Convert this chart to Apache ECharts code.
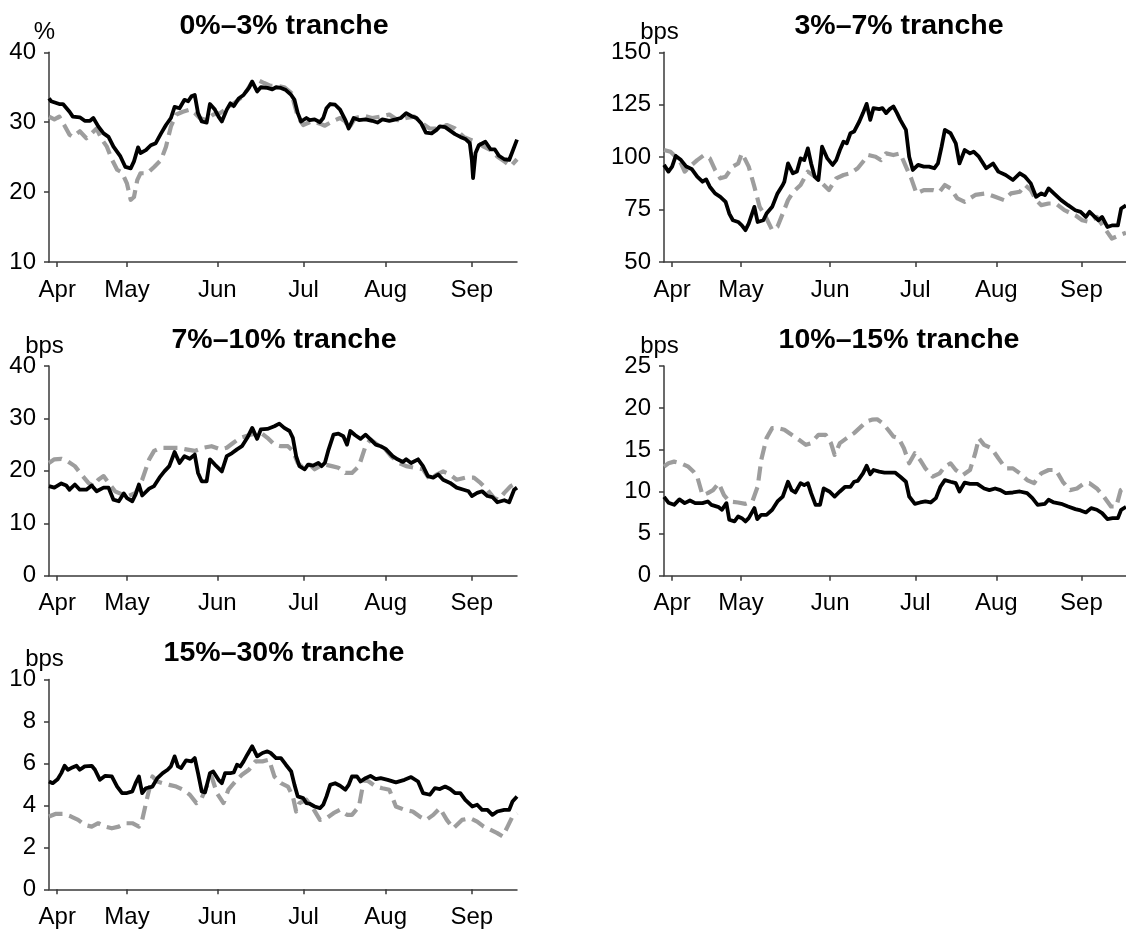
<!DOCTYPE html>
<html>
<head>
<meta charset="utf-8">
<style>
  html, body { margin: 0; padding: 0; background: #ffffff; }
  #chart { width: 1126px; height: 930px; }
</style>
<script src="https://cdn.jsdelivr.net/npm/echarts@6/dist/echarts.min.js"></script>
</head>
<body>
<div id="chart"></div>
<script>
// ---- Data (x = trading-day index from the start of the sample, y = spread) ----
const monthLabels = ['Apr', 'May', 'Jun', 'Jul', 'Aug', 'Sep'];
const monthStartDay = [2, 19, 41, 62, 82, 103];
const lastDay = 114;

const titles = ['0%\u20133% tranche', '3%\u20137% tranche', '7%\u201310% tranche', '10%\u201315% tranche', '15%\u201330% tranche'];
const units = ['%', 'bps', 'bps', 'bps', 'bps'];

// 0%-3% tranche (%)
const t0_3Solid = [[0,33.4],[0.5,33.0],[2.5,32.6],[3.4,32.6],[5,31.5],[5.8,30.8],[7.5,30.7],[8.7,30.2],[10,30.2],[10.8,30.6],[12,29.4],[13.3,28.4],[14.5,27.9],[15.7,26.5],[17.4,25.1],[18.6,23.6],[19.9,23.4],[20.7,24.4],[21.7,26.4],[22.3,25.6],[23.6,26.0],[24.8,26.7],[26,27.0],[27.3,28.4],[28.5,29.6],[29.7,30.6],[30.6,32.2],[31.8,32.0],[33,33.2],[33.9,33.0],[34.7,33.7],[35.5,33.9],[36.3,31.3],[37.2,30.1],[38.4,29.95],[39.2,32.6],[40.4,31.8],[41.3,30.8],[42.1,30.1],[43.3,31.8],[44.2,32.7],[45,32.3],[46.2,33.4],[47.4,33.9],[48.7,34.9],[49.5,35.8],[50.7,34.4],[51.6,35.0],[53.2,34.9],[54.4,34.7],[55.3,35.0],[56.5,34.9],[57.7,34.6],[59,33.9],[59.8,33.2],[60.6,31.3],[61.4,30.1],[62.7,30.6],[63.5,30.3],[64.7,30.4],[66,30.0],[66.8,30.6],[67.6,32.0],[68.5,32.6],[69.7,32.5],[70.9,31.8],[72.2,30.3],[73,29.1],[74.2,30.6],[75.5,30.3],[77.1,30.4],[78.7,30.2],[80,29.95],[81.2,30.4],[82.9,30.2],[84.5,30.4],[85.7,30.6],[87,31.3],[88.2,30.9],[89.5,30.6],[90.7,29.8],[91.8,28.5],[93.2,28.4],[94.4,28.9],[95.2,29.4],[96.5,29.3],[97.7,28.8],[98.9,28.3],[100.2,27.9],[101.4,27.6],[102.5,27.0],[103,24.6],[103.3,22.0],[103.9,25.6],[104.7,26.7],[106.3,27.2],[107.6,26.1],[108.6,26.1],[109.6,25.2],[110.9,24.7],[112.1,24.6],[112.9,25.8],[114,27.5]];
const t0_3Dashed = [[0,30.8],[1.3,30.4],[2.5,30.8],[3.8,29.5],[5,28.2],[5.8,27.9],[7.5,28.7],[9.1,27.7],[10.4,28.4],[11.6,29.1],[12.9,27.5],[14.1,26.5],[15.3,24.7],[16.6,23.2],[17.8,22.8],[19,21.2],[19.9,18.9],[20.7,19.3],[21.5,21.7],[22.3,22.7],[24,22.7],[25.6,23.6],[27.3,24.6],[28.5,26.5],[29.7,29.4],[31,31.1],[32.6,31.5],[34.3,31.8],[35.5,31.3],[36.7,30.6],[38.4,30.3],[40,31.1],[41.7,31.3],[43.3,32.0],[45,32.7],[46.6,33.4],[48.3,34.6],[49.5,35.8],[50.7,36.1],[52.4,35.6],[54,35.2],[55.7,35.2],[57.3,35.0],[59,34.2],[60.6,30.8],[61.9,29.6],[63.9,30.1],[66,29.8],[67.2,29.5],[69.3,30.2],[70.9,30.6],[72.2,30.1],[73,29.1],[74.6,30.6],[76.7,30.9],[78.7,30.6],[80.8,30.8],[82.9,31.1],[84.9,30.3],[87,30.6],[89,30.8],[90.7,29.95],[92.7,29.1],[95.2,29.1],[96.9,29.6],[98.9,29.1],[101,27.9],[102.6,27.5],[104.3,27.1],[105.9,26.5],[107.6,26.0],[109.2,25.1],[110.9,24.4],[112.5,23.7],[114,24.7]];

// 3%-7% tranche (bps)
const t3_7Solid = [[0,96.3],[1.1,93.1],[2,95.5],[2.9,100.6],[4.2,98.6],[5.5,95.5],[6.9,94.2],[8.2,90.7],[9.5,88.3],[10.4,89.4],[11.3,85.9],[12.6,82.7],[13.9,81.1],[15.2,78.7],[16.1,73.1],[17,69.9],[18.3,69.1],[19.2,67.5],[20.1,65.2],[20.9,68.3],[22.3,76.3],[23.1,69.1],[24.5,69.9],[25.3,73.1],[26.7,76.3],[28,82.7],[29.3,86.7],[29.7,88.3],[30.6,97.0],[31.8,92.3],[32.8,93.1],[33.7,99.4],[34.6,98.6],[35.5,104.2],[36.3,97.0],[37.2,90.7],[38.1,89.1],[39,105.0],[40.3,99.4],[41.6,96.3],[42.5,98.6],[43.4,103.4],[44.3,107.4],[45.1,106.6],[46,111.4],[46.9,112.2],[48.2,117.0],[49.1,121.0],[50,125.4],[50.9,117.8],[51.7,123.4],[53.1,122.9],[53.9,123.4],[54.8,121.0],[55.7,122.9],[56.6,124.2],[57.5,121.0],[58.3,117.8],[59.7,113.0],[60.5,100.2],[61.4,93.9],[62.7,96.3],[64.1,95.5],[65.4,95.5],[66.7,94.7],[67.6,97.0],[68.5,105.0],[69.3,113.0],[70.7,111.4],[72,106.6],[72.9,97.0],[74.2,103.4],[75.5,101.8],[76.4,102.6],[77.7,100.2],[79.5,94.7],[81.2,97.0],[82.5,93.1],[84.3,91.5],[86.1,89.1],[87.8,92.3],[89.1,90.7],[90.5,87.5],[91.8,81.1],[93.1,82.7],[94,81.9],[94.9,85.1],[96.2,82.7],[98,79.5],[99.7,77.1],[101.5,74.7],[102.8,73.9],[104.1,71.5],[105,73.9],[106.3,71.5],[107.2,69.9],[108.1,71.5],[109.4,66.7],[110.7,67.5],[112,67.5],[112.8,75.5],[114,77.0]];
const t3_7Dashed = [[0,103.4],[1.6,102.6],[2.9,100.2],[4.2,97.0],[5.1,93.1],[6.4,95.5],[8.2,98.6],[9.9,101.0],[11.3,99.4],[12.6,93.9],[13.9,89.9],[15.2,90.7],[17,95.5],[18.3,97.0],[19.2,101.8],[20.1,98.6],[20.9,95.5],[22.3,85.9],[23.6,76.3],[24.9,72.3],[26.7,65.2],[28,66.8],[29.3,73.1],[30.6,79.5],[31.9,83.5],[33.7,86.7],[35.5,93.1],[37.2,90.7],[39,87.5],[40.7,84.3],[42.5,89.9],[44.3,91.5],[46,92.3],[47.8,94.7],[49.1,97.8],[50.4,101.0],[52.2,100.2],[53.5,98.6],[54.8,101.8],[56.6,101.0],[58.3,101.8],[59.7,95.5],[61,89.9],[62.3,82.7],[64.1,84.3],[66.3,84.3],[68,83.5],[69.3,86.7],[70.7,85.1],[72.4,80.3],[74.2,78.7],[76.8,82.0],[79.5,82.7],[81.7,81.1],[83.9,79.5],[85.6,82.7],[87.8,83.5],[89.1,86.7],[90.5,84.3],[91.8,79.5],[93.1,77.1],[94.9,77.9],[96.7,77.9],[98.8,74.7],[101.5,72.3],[103.2,69.9],[105,69.1],[106.8,71.5],[108.5,66.7],[110.5,61.2],[112.7,63.0],[114,64.0]];

// 7%-10% tranche (bps)
const t7_10Solid = [[0,17.1],[1.3,16.8],[3,17.6],[4.2,17.2],[5,16.4],[6.3,17.4],[7.5,16.4],[9.1,16.4],[10.4,17.2],[11.6,16.1],[13.3,16.8],[14.5,16.8],[15.7,14.5],[17,14.2],[18.2,15.7],[19,14.8],[20.3,14.2],[21.1,15.5],[21.9,17.4],[22.7,15.3],[24.4,16.6],[25.6,17.1],[26.9,18.7],[28.1,19.9],[29.3,20.9],[30.6,23.6],[31.8,21.5],[33,22.8],[34.3,22.3],[35.5,23.1],[36.3,19.6],[37.2,18.0],[38.4,18.0],[39.2,22.2],[40.4,21.2],[42.1,19.9],[43.3,22.8],[44.6,23.4],[45.8,24.1],[47,24.7],[48.3,26.3],[49.5,28.2],[50.7,26.1],[51.6,27.9],[53.2,28.0],[54.9,28.5],[56.1,29.0],[57.3,28.2],[58.6,27.6],[59.4,26.3],[60.2,22.8],[61,20.9],[62.3,20.3],[63.1,21.2],[64.3,21.0],[65.6,21.5],[66.4,20.9],[67.2,21.5],[68,23.8],[69.3,26.9],[70.5,27.1],[71.7,26.6],[72.6,25.0],[73.4,27.6],[74.6,26.8],[75.9,26.1],[77.1,26.9],[78.3,26.0],[79.6,25.0],[80.8,24.7],[82,24.2],[83.7,22.8],[84.9,22.2],[86.2,21.7],[87,22.2],[88.2,21.5],[89.9,22.2],[91.1,20.9],[92.3,19.0],[93.6,18.7],[94.8,19.3],[96,18.3],[97.7,17.7],[99.3,16.8],[101,16.4],[102.2,16.1],[103,15.2],[104.3,15.8],[105.5,16.1],[106.8,15.2],[108,15.0],[109.2,14.0],[110.9,14.4],[112.1,14.0],[113.3,16.4],[114,16.8]];
const t7_10Dashed = [[0,21.5],[1.3,22.2],[3,22.3],[4.6,21.8],[6.3,20.9],[7.9,19.3],[9.6,17.7],[10.8,17.1],[12,18.3],[13.3,19.0],[14.5,17.7],[16.1,16.1],[17.8,15.5],[19.4,15.2],[21.1,15.8],[22.7,18.3],[24.4,22.2],[25.6,23.8],[27.3,24.4],[29.3,24.4],[31.4,24.4],[33.4,24.1],[35.5,23.8],[37.6,24.4],[39.6,24.7],[41.7,24.1],[43.3,24.4],[45,25.4],[46.6,26.3],[49.1,26.9],[51.6,27.3],[53.2,26.3],[54.9,25.0],[56.5,24.7],[58.2,24.7],[59.4,23.8],[60.6,21.5],[61.9,20.6],[63.5,21.2],[64.7,20.3],[66,20.9],[67.2,21.2],[68.9,20.9],[70.5,20.6],[72.2,19.6],[73.8,19.6],[75.5,20.9],[77.1,24.7],[78.3,26.0],[80,25.0],[81.6,24.4],[83.3,22.8],[85.3,21.5],[87,20.9],[89,20.6],[91.1,20.3],[92.8,18.3],[94.4,19.3],[96,19.9],[97.7,19.3],[99.3,18.3],[101.4,18.7],[103.5,18.7],[105.1,17.7],[106.8,16.4],[108.4,14.8],[109.6,14.5],[110.9,15.8],[112.5,17.1],[114,17.7]];

// 10%-15% tranche (bps)
const t10_15Solid = [[0,9.4],[1.1,8.7],[2.5,8.45],[3.8,9.1],[5.1,8.65],[6.4,8.97],[7.7,8.65],[9.5,8.65],[10.8,8.85],[11.7,8.45],[13.5,8.17],[14.3,7.86],[15.4,8.65],[16.1,6.67],[17.4,6.47],[18.3,7.06],[19.2,6.86],[20.1,6.47],[20.9,6.86],[22.3,8.06],[23,6.75],[24,7.26],[25.3,7.26],[26.7,7.86],[28,8.85],[29.3,9.44],[30.6,11.2],[31.5,10.2],[32.4,9.92],[33.7,11.03],[34.6,10.8],[35.5,11.03],[36.3,9.84],[37.4,8.45],[38.5,8.45],[39.4,10.4],[40.8,10.04],[42.1,9.44],[43.4,10.04],[44.7,10.6],[46,10.6],[46.9,11.2],[47.8,11.3],[49.1,12.2],[50,13.1],[50.9,12.1],[51.7,12.6],[53.1,12.4],[54.4,12.3],[55.7,12.3],[57,12.3],[58.3,11.8],[59.7,11.2],[60.5,9.44],[61.9,8.57],[63.2,8.73],[64.5,8.85],[65.8,8.73],[67.1,9.25],[68.2,10.6],[69.3,11.4],[70.7,11.2],[72,11.03],[72.9,10.04],[74.2,11.1],[75.5,10.95],[77.3,10.95],[79,10.4],[80.3,10.2],[81.7,10.4],[83,10.2],[84.3,9.84],[86.1,9.92],[87.8,10.04],[89.6,9.84],[90.9,9.25],[92.2,8.45],[94,8.57],[94.9,9.05],[96.2,8.73],[98,8.57],[99.7,8.25],[101.5,7.94],[102.8,7.78],[104.1,7.54],[105.4,8.06],[106.8,7.86],[108.1,7.46],[109.4,6.75],[110.7,6.87],[112,6.87],[112.8,7.86],[114,8.2]];
const t10_15Dashed = [[0,13.0],[1.1,13.4],[2.5,13.6],[4.2,13.4],[6,13.0],[7.3,12.4],[8.2,11.8],[9.5,9.6],[10.8,9.84],[12.1,10.2],[13.5,11.03],[14.8,9.6],[16.1,8.85],[18.3,8.73],[20.1,8.57],[21.8,8.85],[23.1,10.6],[24,13.8],[25.3,16.4],[26.7,17.6],[28,17.6],[29.7,17.4],[31.5,16.8],[33.3,16.2],[35,15.6],[36.3,15.8],[38.1,16.8],[39.9,16.8],[41.2,15.8],[42.1,14.4],[43.4,15.8],[45.1,16.4],[46.9,17.0],[48.7,17.8],[50,18.4],[51.3,18.6],[52.6,18.65],[53.9,18.2],[55.3,17.4],[56.6,16.6],[57.9,16.4],[59.2,15.2],[60.5,13.4],[61.9,14.6],[63.2,13.8],[64.5,12.8],[66.3,11.8],[68,12.2],[69.3,13.0],[70.7,13.4],[72,12.6],[73.7,12.0],[75.5,12.6],[76.8,14.6],[77.7,16.4],[79,15.6],[80.8,15.2],[82.5,14.0],[84.3,12.8],[86.1,12.8],[87.8,12.2],[89.6,11.4],[91.3,11.03],[93.1,12.2],[94.9,12.6],[96.7,12.6],[98.4,11.2],[100.2,10.2],[101.9,10.4],[103.7,11.03],[105,11.03],[106.8,10.4],[108.5,9.44],[110.3,8.25],[111.6,8.25],[112.7,10.2],[114,10.6]];

// 15%-30% tranche (bps)
const t15_30Solid = [[0,5.14],[0.9,5.06],[2.1,5.25],[3,5.54],[3.8,5.89],[4.6,5.70],[5.4,5.78],[6.7,5.89],[7.5,5.70],[8.7,5.86],[10.4,5.89],[11.2,5.70],[12.4,5.22],[13.7,5.41],[15.3,5.38],[16.6,4.90],[17.8,4.59],[19,4.59],[20.3,4.67],[21.1,5.06],[21.9,5.38],[22.7,4.59],[23.6,4.82],[25.2,4.90],[26.4,5.30],[27.7,5.54],[28.9,5.70],[29.7,5.86],[30.6,6.34],[31.4,5.86],[32.2,5.78],[33.4,6.15],[34.7,6.10],[35.5,6.26],[36.3,5.54],[37.2,4.67],[38,4.62],[39.2,5.54],[40,5.62],[41.3,5.22],[42.1,5.06],[42.9,5.54],[44.2,5.54],[45,5.57],[45.8,5.94],[46.6,5.86],[47.4,6.10],[48.3,6.42],[49.5,6.82],[50.7,6.34],[52,6.50],[53.2,6.58],[54,6.50],[55.3,6.26],[56.5,6.26],[57.7,5.94],[59,5.62],[59.8,4.98],[60.6,4.43],[61.9,4.35],[62.7,4.11],[63.5,4.08],[64.7,3.95],[66,3.87],[66.8,4.03],[67.6,4.43],[68.5,4.98],[69.7,5.06],[70.9,4.94],[72.2,4.75],[73,4.98],[73.8,5.38],[75,5.38],[75.9,5.14],[77.1,5.30],[78.3,5.41],[79.6,5.25],[80.8,5.30],[82.5,5.22],[84.5,5.10],[86.6,5.22],[88.2,5.35],[89.9,5.14],[91.1,4.59],[92.8,4.51],[94,4.82],[95.2,4.78],[96.5,4.90],[97.7,4.78],[98.9,4.59],[100.2,4.59],[101.4,4.27],[103.1,3.95],[104.3,4.03],[105.5,3.79],[106.8,3.79],[108,3.55],[109.2,3.71],[110.9,3.79],[112.1,3.79],[112.9,4.19],[114,4.43]];
const t15_30Dashed = [[0,3.47],[1.7,3.60],[3.4,3.60],[5.4,3.47],[7.1,3.31],[8.7,3.07],[10.4,2.99],[12,3.15],[13.7,2.99],[15.3,2.91],[17,2.99],[18.6,3.15],[20.3,3.15],[21.9,2.99],[22.7,3.31],[24,4.43],[25.2,5.38],[26.4,5.14],[27.7,5.06],[29.3,4.98],[31,4.90],[32.6,4.75],[34.3,4.51],[35.9,4.11],[37.2,4.35],[38.4,4.90],[39.6,5.38],[40.9,4.59],[42.5,4.11],[43.7,4.75],[45.4,5.14],[47,5.46],[48.7,5.70],[50.3,6.10],[52,6.10],[53.6,6.18],[54.9,5.38],[56.5,5.06],[58.2,4.90],[59.4,4.43],[60.2,3.71],[61,4.11],[62.7,4.27],[64.3,3.87],[66,3.31],[67.6,3.39],[69.3,3.63],[70.9,3.79],[72.6,3.55],[73.8,3.55],[75.5,3.95],[76.7,5.22],[77.9,5.14],[79.6,4.90],[81.2,4.82],[82.9,4.75],[84.5,3.95],[86.6,3.79],[88.6,3.71],[90.3,3.47],[91.9,3.31],[93.6,3.55],[95.2,3.87],[96.9,3.31],[98.5,2.91],[100.6,3.31],[102.6,3.39],[104.3,3.23],[105.9,2.99],[107.6,2.83],[109.2,2.68],[110.5,2.52],[111.7,2.99],[112.9,3.47],[114,3.63]];

const solidSeries = [t0_3Solid, t3_7Solid, t7_10Solid, t10_15Solid, t15_30Solid];
const dashedSeries = [t0_3Dashed, t3_7Dashed, t7_10Dashed, t10_15Dashed, t15_30Dashed];
const yMin = [10, 50, 0, 0, 0];
const yMax = [40, 150, 40, 25, 10];
const yStep = [10, 25, 10, 5, 2];

// ---- Layout ----
const FONT = 'Liberation Sans, Arial, Helvetica, sans-serif';
const colLeft = [49, 664];
const rowTop = [52.3, 366, 679.6];
const plotW = 468;
const plotH = 209.7;
const titleTop = [7, 320.5, 634];

const grids = [], xAxes = [], yAxes = [], series = [], titleList = [];
for (let p = 0; p < 5; p++) {
  const col = p % 2, row = Math.floor(p / 2);
  grids.push({ left: colLeft[col], top: rowTop[row], width: plotW, height: plotH, containLabel: false });
  titleList.push({
    text: titles[p],
    left: colLeft[col] + plotW / 2 - 4,
    top: titleTop[row],
    textAlign: 'center',
    textStyle: { fontFamily: FONT, fontWeight: 'bold', fontSize: 28.5, color: '#000' }
  });
  xAxes.push({
    type: 'value', gridIndex: p, min: 0, max: lastDay,
    axisLine: { show: true, lineStyle: { color: '#3a3a3a', width: 1.5 } },
    axisTick: { show: true, length: 5, customValues: monthStartDay, lineStyle: { color: '#3a3a3a', width: 1.5 } },
    axisLabel: {
      show: true, customValues: monthStartDay, margin: 16,
      fontFamily: FONT, fontSize: 24, color: '#000',
      formatter: v => monthLabels[monthStartDay.indexOf(Math.round(v))] || ''
    },
    splitLine: { show: false }
  });
  yAxes.push({
    type: 'value', gridIndex: p, min: yMin[p], max: yMax[p], interval: yStep[p],
    name: units[p], nameLocation: 'end', nameGap: 8, nameMoveOverlap: false,
    nameTextStyle: { fontFamily: FONT, fontSize: 24, color: '#000', padding: [0, 9, 0, 0] },
    axisLine: { show: true, lineStyle: { color: '#3a3a3a', width: 1.5 } },
    axisTick: { show: true, length: 5, lineStyle: { color: '#3a3a3a', width: 1.5 } },
    axisLabel: { show: true, margin: 13, fontFamily: FONT, fontSize: 24, color: '#000' },
    splitLine: { show: false }
  });
  series.push({
    type: 'line', xAxisIndex: p, yAxisIndex: p, data: dashedSeries[p],
    showSymbol: false, symbol: 'none', silent: true, z: 2,
    lineStyle: { color: '#9d9d9d', width: 4.2, type: [14, 7], cap: 'butt', join: 'round' }
  });
  series.push({
    type: 'line', xAxisIndex: p, yAxisIndex: p, data: solidSeries[p],
    showSymbol: false, symbol: 'none', silent: true, z: 3,
    lineStyle: { color: '#000000', width: 3.8, join: 'round' }
  });
}

const chart = echarts.init(document.getElementById('chart'), null, { renderer: 'canvas' });
chart.setOption({
  backgroundColor: '#ffffff',
  animation: false,
  title: titleList,
  grid: grids,
  xAxis: xAxes,
  yAxis: yAxes,
  series: series
});
</script>
</body>
</html>
